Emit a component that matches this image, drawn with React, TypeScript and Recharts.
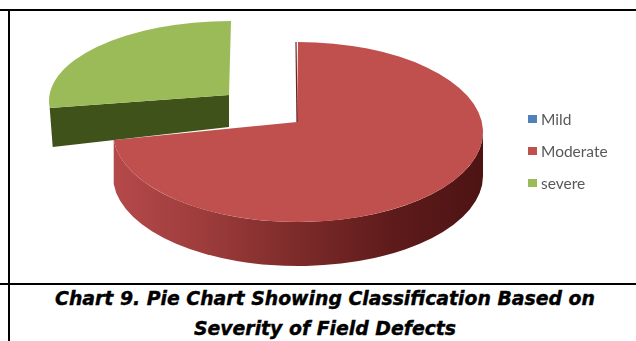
import React from "react";
import { PieChart, Pie, Legend } from "recharts";

// Severity classes and their share of field defects (percent)
const categories = ["Mild", "Moderate", "severe"];
const shares = [0, 73.6, 26.4];
const colors = ["#4f81bd", "#c0504d", "#9bbb59"];
const captionLines = [
  "Chart 9. Pie Chart Showing Classification Based on",
  "Severity of Field Defects",
];

const rows = categories.map((name, i) => ({ name, value: shares[i], fill: colors[i] }));

const RAD = Math.PI / 180;
const FLATTEN = 90 / 185;

type SliceProps = {
  cx: number;
  cy: number;
  outerRadius: number;
  startAngle: number;
  endAngle: number;
  name?: string;
  fill: string;
  value: number;
};

// Tilted disc slice: an elliptical top face plus the visible side wall.
function TiltedSlice(props: SliceProps) {
  const { cx, cy, outerRadius, startAngle, endAngle, name, fill, value } = props;
  if (!value) return null;

  if (name === "severe") {
    // Pulled out towards the upper left and slightly foreshortened by the tilt
    const ex = cx - 67;
    const ey = cy - 31;
    const rx = outerRadius - 3;
    const ry = 80;
    const pt = (a: number) => [ex + rx * Math.cos(a * RAD), ey - ry * Math.sin(a * RAD)];
    const [sx, sy] = pt(startAngle);
    const [tx, ty] = pt(endAngle);
    const apexX = ex - 2;
    const apexY = ey - 6;
    return (
      <g>
        <path
          d={`M${apexX},${apexY} L${sx},${sy} L${sx + 3},${sy + 39} L${apexX},${apexY + 32} Z`}
          fill="#3f5219"
        />
        <path
          d={`M${apexX},${apexY} L${sx},${sy} A${rx},${ry} 0 0 1 ${tx},${ty} Z`}
          fill={fill}
        />
      </g>
    );
  }

  const rx = outerRadius;
  const ry = outerRadius * FLATTEN;
  const depth = 44;
  const pt = (a: number) => [cx + rx * Math.cos(a * RAD), cy - ry * Math.sin(a * RAD)];
  const [sx, sy] = pt(startAngle);
  const [tx, ty] = pt(endAngle);
  const [rightX, rightY] = pt(0);
  const apexX = cx - 1;
  const apexY = cy - 10;
  return (
    <g>
      <defs>
        <linearGradient id="redWall" x1="0" y1="0" x2="1" y2="0">
          <stop offset="0" stopColor="#b5494a" />
          <stop offset="0.25" stopColor="#9c3c3b" />
          <stop offset="0.5" stopColor="#7c2b2a" />
          <stop offset="0.75" stopColor="#5f1b1b" />
          <stop offset="1" stopColor="#4d1313" />
        </linearGradient>
      </defs>
      <path
        d={`M${rightX},${rightY} A${rx},${ry} 0 0 1 ${tx},${ty} L${tx},${ty + depth} A${rx},${ry} 0 0 0 ${rightX},${rightY + depth} Z`}
        fill="url(#redWall)"
      />
      <path
        d={`M${apexX},${apexY} L${sx},${sy} A${rx},${ry} 0 1 1 ${tx},${ty} Z`}
        fill={fill}
      />
      <path d={`M${apexX},${apexY} L${sx - 2},${sy}`} stroke="#6b2322" strokeWidth={1.2} fill="none" />
    </g>
  );
}

function KeyList({ payload }: { payload?: { value: string; color: string }[] }) {
  return (
    <div style={{ filter: "blur(0.6px)" }}>
      {(payload ?? []).map((entry) => (
        <div
          key={entry.value}
          style={{
            display: "flex",
            alignItems: "center",
            height: 32,
            fontFamily: "Lato, sans-serif",
            fontSize: 15.5,
            color: "#595959",
          }}
        >
          <span
            style={{ width: 9, height: 8, background: entry.color, marginRight: 4, flex: "none" }}
          />
          {entry.value}
        </div>
      ))}
    </div>
  );
}

const rule = (style: React.CSSProperties) => (
  <div style={{ position: "absolute", background: "#000", ...style }} />
);

export default function App() {
  return (
    <div style={{ position: "absolute", left: 0, top: 0, width: 636, height: 341, background: "#fff", overflow: "hidden" }}>
      <PieChart width={636} height={341} margin={{ top: 0, right: 0, bottom: 0, left: 0 }}>
        <Pie
          data={rows}
          dataKey="value"
          nameKey="name"
          cx={298}
          cy={132}
          outerRadius={185}
          startAngle={90}
          endAngle={-270}
          stroke="none"
          legendType="square"
          isAnimationActive={false}
          shape={TiltedSlice as never}
        />
        <Legend
          layout="vertical"
          align="right"
          verticalAlign="top"
          wrapperStyle={{ left: 528, top: 103, width: 100 }}
          content={KeyList as never}
        />
      </PieChart>
      {rule({ left: 0, top: 9, width: 636, height: 2 })}
      {rule({ left: 0, top: 283, width: 636, height: 2 })}
      {rule({ left: 7.5, top: 9, width: 2, height: 332 })}
      <div
        style={{
          position: "absolute",
          left: 14,
          top: 284,
          width: 622,
          textAlign: "center",
          fontFamily: "'DejaVu Sans', sans-serif",
          fontWeight: "bold",
          fontStyle: "italic",
          fontSize: 18.85,
          lineHeight: "30px",
          color: "#000",
          WebkitTextStroke: "0.4px #000",
        }}
      >
        {captionLines.map((line) => (
          <div key={line}>{line}</div>
        ))}
      </div>
    </div>
  );
}
